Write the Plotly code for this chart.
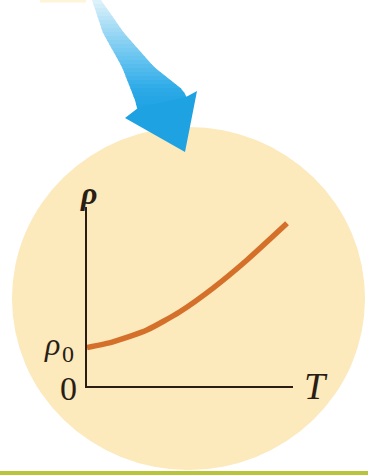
import numpy as np
import plotly.graph_objects as go

# Data: resistivity rho versus temperature T (arbitrary units)
T_vals = [0.0, 1.26, 2.91, 4.51, 6.12, 7.77, 9.71]
rho_vals = [2.15, 2.47, 3.13, 4.15, 5.47, 7.04, 9.09]
x_label = "T"
y_label = "ρ"
rho0_label = "ρ"
rho0_sub = "0"
zero_label = "0"

W, H = 368, 475
fig = go.Figure()

fig.add_trace(go.Scatter(
    x=T_vals, y=rho_vals, mode="lines",
    line=dict(color="#D4702A", width=5.5, shape="spline", smoothing=0.6),
    xaxis="x2", yaxis="y2", hoverinfo="skip", showlegend=False,
))

shapes = []
# faint yellow piece at top left
shapes.append(dict(type="rect", xref="x", yref="y", x0=40, x1=86, y0=-2, y1=2.5,
                   fillcolor="#FEF4D8", line=dict(width=0), layer="below"))
# big circle
shapes.append(dict(type="circle", xref="x", yref="y", x0=12, x1=365, y0=127, y1=470,
                   fillcolor="#FCE9BC", line=dict(width=0), layer="below"))

# arrow shaft built from bands to imitate a gradient
ly = [0, 33, 67, 100, 112]
lx = [92, 103, 122, 135, 138]
ry = [0, 33, 67, 90, 112]
rx = [101, 124, 154, 183, 194]
cy = [0, 30, 60, 90, 115]
cols = [(226, 243, 251), (160, 218, 245), (100, 195, 240), (45, 170, 232), (28, 160, 226)]
def col_at(y):
    r = np.interp(y, cy, [c[0] for c in cols])
    g = np.interp(y, cy, [c[1] for c in cols])
    b = np.interp(y, cy, [c[2] for c in cols])
    return "rgb(%d,%d,%d)" % (r, g, b)

ys = np.arange(0, 112, 4)
for i in range(len(ys) - 1):
    y1, y2 = ys[i], ys[i + 1] + 0.8
    xl1, xl2 = np.interp(y1, ly, lx), np.interp(y2, ly, lx)
    xr1, xr2 = np.interp(y1, ry, rx), np.interp(y2, ry, rx)
    path = "M %.1f %.1f L %.1f %.1f L %.1f %.1f L %.1f %.1f Z" % (xl1, y1, xr1, y1, xr2, y2, xl2, y2)
    shapes.append(dict(type="path", xref="x", yref="y", path=path,
                       fillcolor=col_at((y1 + y2) / 2), line=dict(width=0), layer="below"))
# arrow head
shapes.append(dict(type="path", xref="x", yref="y",
                   path="M 138 108 L 125 118 L 185 152 L 197 91 L 186 97 Z",
                   fillcolor="#1EA2E2", line=dict(width=0), layer="below"))
# green bar at bottom
shapes.append(dict(type="rect", xref="x", yref="y", x0=0, x1=W, y0=471, y1=476,
                   fillcolor="#B7C43C", line=dict(width=0), layer="below"))

font_serif = "Liberation Serif, DejaVu Serif, serif"
tc = "#2a1d14"
annotations = [
    dict(x=88, y=193, xref="x", yref="y", text="<b><i>%s</i></b>" % y_label, showarrow=False,
         font=dict(family=font_serif, size=32, color=tc), xanchor="center", yanchor="middle"),
    dict(x=52, y=344, xref="x", yref="y", text="<i>%s</i>" % rho0_label, showarrow=False,
         font=dict(family=font_serif, size=32, color=tc), xanchor="center", yanchor="middle"),
    dict(x=68, y=354, xref="x", yref="y", text=rho0_sub, showarrow=False,
         font=dict(family=font_serif, size=24, color=tc), xanchor="center", yanchor="middle"),
    dict(x=68, y=388, xref="x", yref="y", text=zero_label, showarrow=False,
         font=dict(family=font_serif, size=34, color=tc), xanchor="center", yanchor="middle"),
    dict(x=316, y=386, xref="x", yref="y", text="<i>%s</i>" % x_label, showarrow=False,
         font=dict(family=font_serif, size=38, color=tc), xanchor="center", yanchor="middle"),
]

fig.update_layout(
    width=W, height=H, margin=dict(l=0, r=0, t=0, b=0),
    paper_bgcolor="white", plot_bgcolor="rgba(0,0,0,0)",
    xaxis=dict(range=[0, W], visible=False, domain=[0, 1], fixedrange=True),
    yaxis=dict(range=[H, 0], visible=False, domain=[0, 1], fixedrange=True),
    xaxis2=dict(range=[0, 10], domain=[87 / W, 293 / W], anchor="y2",
                showline=True, linecolor=tc, linewidth=1.6,
                showgrid=False, zeroline=False, showticklabels=False, ticks=""),
    yaxis2=dict(range=[0, 10], domain=[(H - 386) / H, (H - 207) / H], anchor="x2",
                showline=True, linecolor=tc, linewidth=1.6,
                showgrid=False, zeroline=False, showticklabels=False, ticks=""),
    shapes=shapes, annotations=annotations, showlegend=False,
)

fig.write_html("out.html", config={"displayModeBar": False},
               post_script="document.body.style.margin='0';document.body.style.overflow='hidden';")
